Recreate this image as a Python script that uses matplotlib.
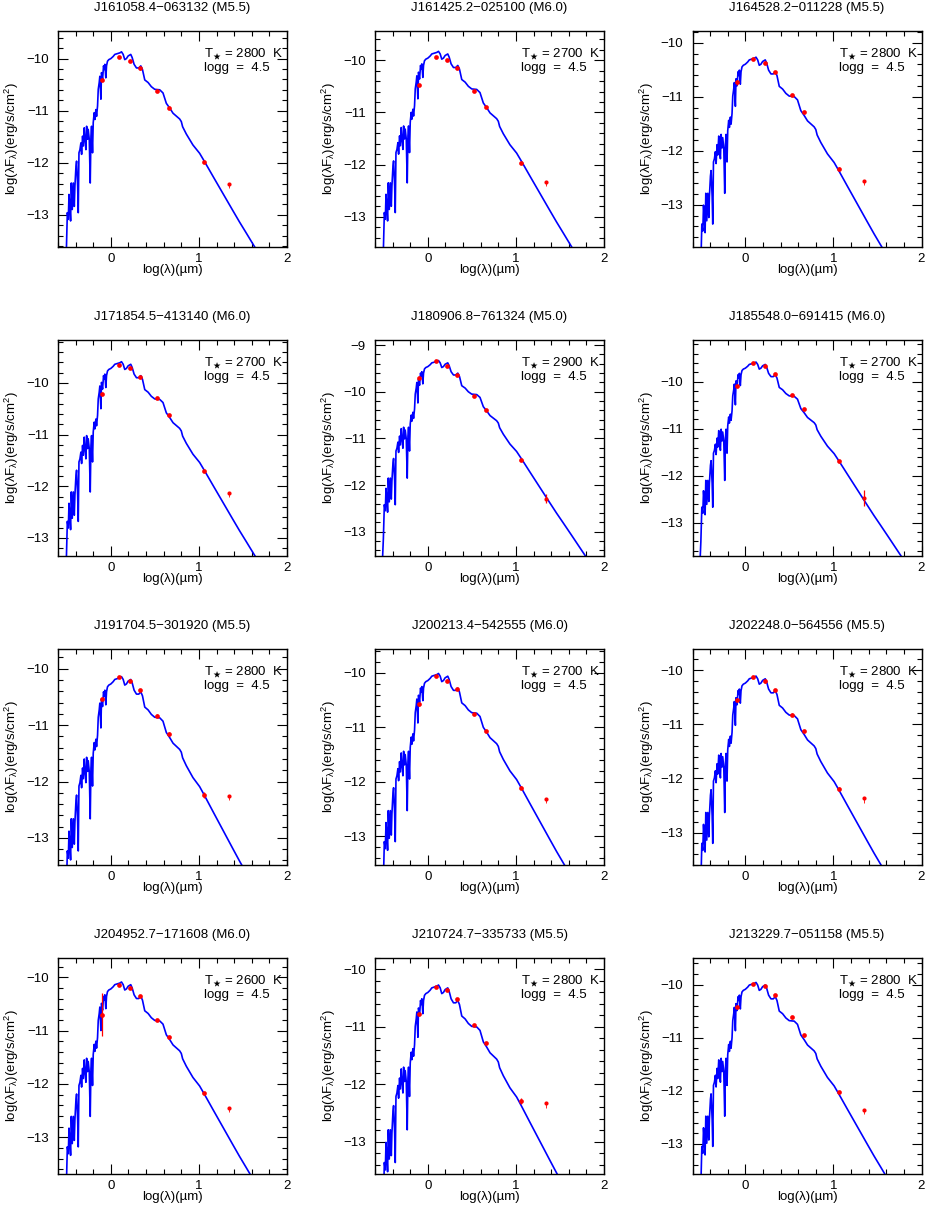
import numpy as np
import matplotlib
matplotlib.use("Agg")
import matplotlib.pyplot as plt
from matplotlib.ticker import MultipleLocator

plt.rcParams['font.family'] = ['Liberation Sans', 'DejaVu Sans']
plt.rcParams['mathtext.fontset'] = 'custom'
plt.rcParams['mathtext.rm'] = 'Liberation Sans'
plt.rcParams['mathtext.it'] = 'Liberation Sans:italic'
plt.rcParams['mathtext.bf'] = 'Liberation Sans:bold'
plt.rcParams['mathtext.fallback'] = 'stixsans'

# ---------------- data ----------------
TITLES = ["J161058.4\u2212063132 (M5.5)", "J161425.2\u2212025100 (M6.0)", "J164528.2\u2212011228 (M5.5)",
          "J171854.5\u2212413140 (M6.0)", "J180906.8\u2212761324 (M5.0)", "J185548.0\u2212691415 (M6.0)",
          "J191704.5\u2212301920 (M5.5)", "J200213.4\u2212542555 (M6.0)", "J202248.0\u2212564556 (M5.5)",
          "J204952.7\u2212171608 (M6.0)", "J210724.7\u2212335733 (M5.5)", "J213229.7\u2212051158 (M5.5)"]
TEFF = [2800, 2700, 2800, 2700, 2900, 2700, 2800, 2700, 2800, 2600, 2800, 2800]
LOGG = [4.5, 4.5, 4.5, 4.5, 4.5, 4.5, 4.5, 4.5, 4.5, 4.5, 4.5, 4.5]

# model peak level of each panel (log lambda F_lambda)
MODEL_PEAK = [-9.87, -9.83, -10.265, -9.59, -9.33, -9.58, -10.14, -10.01, -10.11, -10.09, -10.27, -9.96]
YLIM_TOP = [-9.47, -9.44, -9.78, -9.17, -8.89, -9.11, -9.65, -9.56, -9.61, -9.64, -9.80, -9.50]
YLIM_BOT = [-13.62, -13.58, -13.78, -13.35, -13.52, -13.71, -13.48, -13.53, -13.60, -13.69, -13.56, -13.57]

# model spectrum shape
TEMPLATE_X = [-0.525, -0.505, -0.494, -0.483, -0.475, -0.464, -0.457, -0.449, -0.438, -0.426,
              -0.415, -0.408, -0.396, -0.389, -0.377, -0.370, -0.362, -0.351, -0.340, -0.332,
              -0.321, -0.313, -0.302, -0.294, -0.283, -0.275, -0.264, -0.257, -0.245, -0.234,
              -0.226, -0.219, -0.208, -0.200, -0.189, -0.181, -0.170, -0.162, -0.151, -0.143,
              -0.132, -0.125, -0.113, -0.106, -0.094, -0.083, -0.075, -0.068, -0.057, -0.049,
              -0.038, -0.023, 0.000, 0.026, 0.045, 0.083, 0.102, 0.121, 0.140, 0.158,
              0.177, 0.196, 0.226, 0.242, 0.264, 0.291, 0.317, 0.340, 0.359, 0.385,
              0.423, 0.460, 0.498, 0.555, 0.592, 0.630, 0.668, 0.706, 0.781, 0.800,
              0.815, 0.857, 0.932, 1.008, 1.064, 1.159, 1.272, 1.385, 1.461, 1.537,
              1.630, 1.800, 2.000]
TEMPLATE_Y = [-14.60, -13.70, -12.97, -13.10, -12.62, -12.91, -13.13, -12.40, -12.91, -12.40,
              -12.85, -12.46, -12.08, -11.98, -12.46, -12.97, -11.82, -11.76, -11.63, -11.85,
              -11.50, -11.69, -11.34, -11.56, -11.76, -11.31, -11.56, -11.37, -11.56, -12.40,
              -11.50, -11.31, -11.82, -11.24, -11.05, -11.18, -10.99, -11.12, -10.92, -10.60,
              -10.47, -10.35, -10.79, -10.28, -10.41, -10.15, -10.22, -10.12, -10.38, -10.15,
              -10.06, -10.03, -10.01, -9.97, -9.93, -9.91, -9.90, -9.88, -9.93, -10.03,
              -10.01, -9.96, -9.93, -9.99, -10.12, -10.19, -10.19, -10.15, -10.22, -10.42,
              -10.47, -10.55, -10.60, -10.61, -10.67, -10.87, -10.96, -11.06, -11.17, -11.22,
              -11.32, -11.46, -11.67, -11.83, -11.99, -12.27, -12.60, -12.93, -13.15, -13.36,
              -13.62, -14.10, -14.70]

# photometric bands: I, J, H, Ks, W1, W2, W3, W4 (log lambda in micron)
PHOT_X = [-0.100, 0.092, 0.220, 0.334, 0.525, 0.663, 1.063, 1.344]
PHOT_Y = [
    [-10.42, -9.97, -10.04, -10.19, -10.62, -10.94, -11.99, -12.41],
    [-10.47, -9.93, -9.99, -10.14, -10.59, -10.90, -11.97, -12.34],
    [-10.73, -10.30, -10.37, -10.54, -10.97, -11.28, -12.33, -12.55],
    [-10.21, -9.65, -9.72, -9.88, -10.30, -10.62, -11.70, -12.13],
    [-9.70, -9.35, -9.44, -9.64, -10.08, -10.38, -11.47, -12.29],
    [-10.09, -9.60, -9.67, -9.84, -10.28, -10.59, -11.68, -12.48],
    [-10.54, -10.14, -10.21, -10.38, -10.83, -11.15, -12.24, -12.25],
    [-10.58, -10.05, -10.14, -10.29, -10.75, -11.06, -12.11, -12.31],
    [-10.55, -10.12, -10.21, -10.36, -10.82, -11.12, -12.19, -12.37],
    [-10.70, -10.14, -10.21, -10.36, -10.80, -11.12, -12.18, -12.45],
    [-10.77, -10.30, -10.35, -10.51, -10.97, -11.28, -12.29, -12.33],
    [-10.43, -9.99, -10.03, -10.20, -10.62, -10.96, -12.03, -12.36],
]
PHOT_ERR = [
    [0.02, 0.02, 0.02, 0.02, 0.02, 0.02, 0.02, 0.00],
    [0.02, 0.02, 0.02, 0.02, 0.02, 0.02, 0.02, 0.00],
    [0.05, 0.02, 0.02, 0.02, 0.02, 0.02, 0.04, 0.00],
    [0.02, 0.02, 0.02, 0.02, 0.02, 0.02, 0.02, 0.00],
    [0.02, 0.02, 0.02, 0.02, 0.02, 0.02, 0.02, 0.10],
    [0.02, 0.02, 0.02, 0.02, 0.02, 0.02, 0.02, 0.17],
    [0.02, 0.02, 0.02, 0.02, 0.02, 0.02, 0.05, 0.00],
    [0.02, 0.02, 0.02, 0.02, 0.02, 0.02, 0.03, 0.00],
    [0.02, 0.02, 0.02, 0.02, 0.02, 0.02, 0.03, 0.00],
    [0.40, 0.02, 0.02, 0.02, 0.02, 0.02, 0.03, 0.00],
    [0.02, 0.02, 0.02, 0.02, 0.02, 0.02, 0.05, 0.00],
    [0.02, 0.02, 0.02, 0.02, 0.02, 0.02, 0.02, 0.00],
]
# W4 shown as a limit (dot with small lower bar) where True
W4_LIMIT = [True, True, True, True, False, False, True, True, True, True, True, True]

# ---------------- layout ----------------
W, H = 926, 1207
fig = plt.figure(figsize=(W / 100, H / 100), dpi=100)
COL_LEFT = [58, 375, 692.5]
ROW_TOP = [31, 340, 649, 958]
AX_W, AX_H = 229, 216

tx = np.array(TEMPLATE_X)
ty = np.array(TEMPLATE_Y)
fs = 9.5

for i in range(12):
    r, c = divmod(i, 3)
    ax = fig.add_axes([COL_LEFT[c] / W, 1 - (ROW_TOP[r] + AX_H) / H, AX_W / W, AX_H / H])
    shift = MODEL_PEAK[i] - ty.max()
    ax.plot(tx, ty + shift, color='#0000ff', lw=1.2, zorder=2)

    px = np.array(PHOT_X)
    py = np.array(PHOT_Y[i])
    pe = np.array(PHOT_ERR[i])
    ax.errorbar(px[:7], py[:7], yerr=pe[:7], fmt='o', color='#ff0000', ms=3.4,
                mew=0, elinewidth=0.9, capsize=1.6, capthick=0.9, zorder=3)
    if W4_LIMIT[i]:
        ax.errorbar([px[7]], [py[7]], yerr=[[0.08], [0.0]], fmt='o', color='#ff0000', ms=3.0,
                    mew=0, elinewidth=0.6, capsize=1.6, capthick=0.6, zorder=3)
    else:
        ax.errorbar([px[7]], [py[7]], yerr=[pe[7]], fmt='o', color='#ff0000', ms=3.0,
                    mew=0, elinewidth=0.9, capsize=2.2, capthick=0.9, zorder=3)

    ax.set_xlim(-0.6, 2.0)
    ax.set_ylim(YLIM_BOT[i], YLIM_TOP[i])
    ax.xaxis.set_major_locator(MultipleLocator(1))
    ax.xaxis.set_minor_locator(MultipleLocator(0.2))
    ax.yaxis.set_major_locator(MultipleLocator(1))
    ax.yaxis.set_minor_locator(MultipleLocator(0.2))
    ax.tick_params(which='both', direction='in', top=True, right=True, width=0.8, color='black')
    ax.tick_params(which='major', length=7)
    ax.tick_params(which='minor', length=3.5)
    ax.tick_params(axis='x', which='major', labelsize=fs, pad=4)
    ax.tick_params(axis='y', which='major', labelsize=fs, pad=6.5)
    for s in ax.spines.values():
        s.set_linewidth(1.0)

    ax.text(0.5, 1.106, TITLES[i], transform=ax.transAxes, ha='center', va='center', fontsize=fs)
    ax.text(0.5, -0.106, 'log(\u03bb)(\u00b5m)', transform=ax.transAxes, ha='center', va='center',
            fontsize=fs)
    ax.text(-0.20, 0.5, r'log($\mathrm{\lambda}$F$_{\mathrm{\lambda}}$)(erg/s/cm$^{2}$)',
            transform=ax.transAxes, ha='center', va='center', rotation=90, fontsize=fs)
    ax.text(0.639, 0.894, r'T$_{\bigstar}$ = %d  K' % TEFF[i], transform=ax.transAxes,
            ha='left', va='center', fontsize=fs)
    ax.text(0.639, 0.829, 'logg  =  %.1f' % LOGG[i], transform=ax.transAxes,
            ha='left', va='center', fontsize=fs)

fig.savefig('out.png', dpi=100, facecolor='white')
